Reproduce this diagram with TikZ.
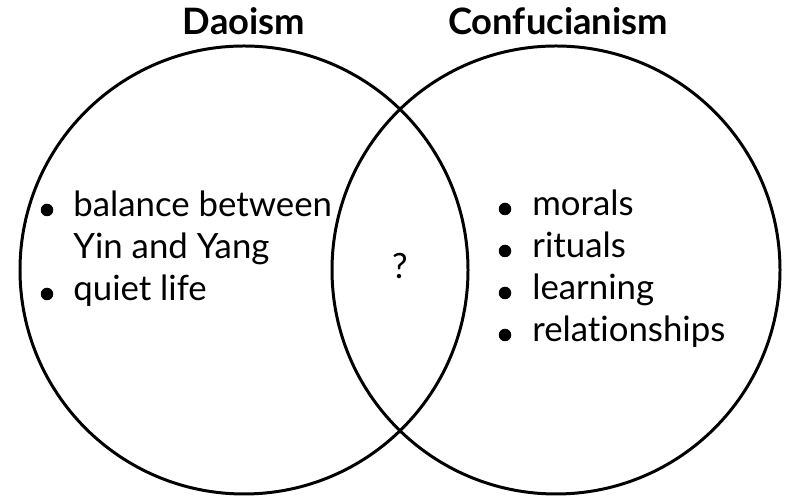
\documentclass[tikz,border=0pt]{standalone}
\usepackage{fontspec}
\setmainfont{Lato}[Ligatures=NoCommon]
\usetikzlibrary{shapes}
\tikzstyle{vcirc}=[circle,draw=black,line width=1.7pt,minimum size=8.96cm,inner sep=0pt]
\tikzstyle{hlabel}=[anchor=base,inner sep=0pt,font=\fontsize{20.7}{25}\selectfont\bfseries]
\tikzstyle{entry}=[anchor=base west,inner sep=0pt,font=\fontsize{19.8}{24}\selectfont]
\tikzstyle{bul}=[circle,fill=black,inner sep=0pt,minimum size=0.25cm]

\begin{document}
\begin{tikzpicture}
\useasboundingbox (0,0) rectangle (16,10);
\node[vcirc] (L) at (4.88,4.6) {};
\node[vcirc] (R) at (11.12,4.6) {};
\node[hlabel] (Lh) at (4.88,9.3) {Daoism};
\node[hlabel] (Rh) at (11.16,9.3) {Confucianism};
% left side
\node[bul] (Lb1) at (0.94,5.8) {};
\node[entry] (L1) at (1.46,5.66) {balance between};
\node[entry] (L2) at (1.46,4.82) {Yin and Yang};
\node[bul] (Lb2) at (0.94,4.12) {};
\node[entry] (L3) at (1.46,3.98) {quiet life};
% middle
\node[entry,anchor=base] (M) at (8.0,4.42) {?};
% right side
\node[bul] (Rb1) at (10.1,5.82) {};
\node[entry] (R1) at (10.64,5.68) {morals};
\node[bul] (Rb2) at (10.1,4.98) {};
\node[entry] (R2) at (10.64,4.84) {rituals};
\node[bul] (Rb3) at (10.1,4.14) {};
\node[entry] (R3) at (10.64,4.0) {learning};
\node[bul] (Rb4) at (10.1,3.3) {};
\node[entry] (R4) at (10.64,3.16) {relationships};
\end{tikzpicture}
\end{document}
